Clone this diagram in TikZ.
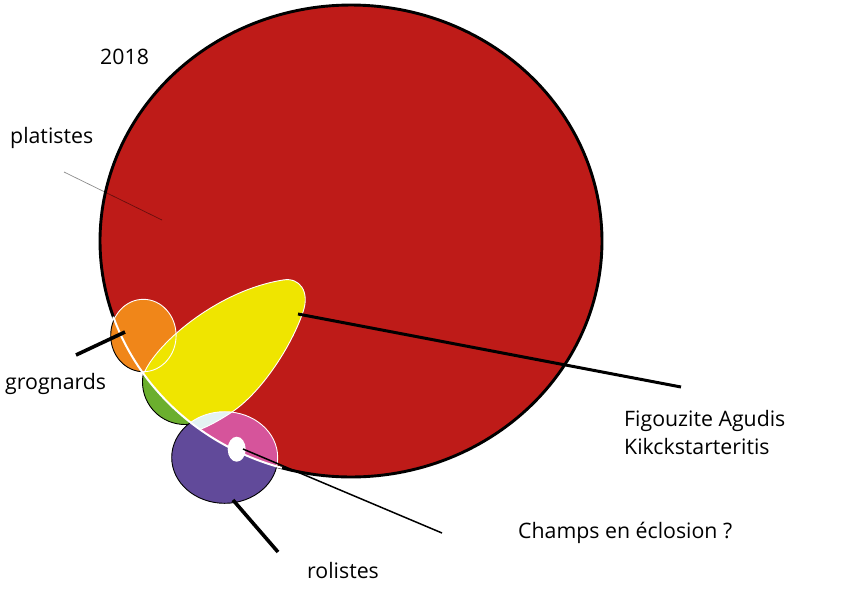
\documentclass[tikz,border=0pt]{standalone}
\usepackage{fontspec}
\setmainfont{Open Sans}
\definecolor{cred}{HTML}{BE1B18}
\definecolor{corange}{HTML}{F08619}
\definecolor{cyellow}{HTML}{EFE500}
\definecolor{cgreen}{HTML}{6BAF2E}
\definecolor{cpink}{HTML}{D6549B}
\definecolor{cpurple}{HTML}{614A9A}
\definecolor{cpale}{HTML}{E4F2F2}
\begin{document}
\begin{tikzpicture}[x=1pt,y=-1pt,
  redshape/.style={insert path={(351,241) ellipse [x radius=251, y radius=236]}},
  orangeshape/.style={insert path={(143.4,335.5) ellipse [x radius=32.7, y radius=36.2]}},
  greenshape/.style={insert path={(185,382) circle [radius=42.5]}},
  roleshape/.style={insert path={(224.7,457.5) ellipse [x radius=53, y radius=45.8]}},
  yellowshape/.style={insert path={(145,371) .. controls (160,340) and (220,290) .. (283,280)
     .. controls (300,277) and (310,292) .. (303,312)
     .. controls (292,345) and (262,392) .. (232,412)
     .. controls (220,420) and (206,428) .. (195,431) -- (138,380) -- cycle}},
  thinblack/.style={draw=black, line width=0.9pt},
  thinwhite/.style={draw=white, line width=0.9pt},
  lbl/.style={font=\fontsize{21.3}{25}\selectfont, anchor=base west, inner sep=0pt},
  leader/.style={line width=3.6pt, line cap=butt},
]
\useasboundingbox (0,0) rectangle (842,595);
\fill[white] (0,0) rectangle (842,595);

% parts lying outside the red disc (drawn first, red covers the rest)
\path[greenshape, fill=cgreen, thinblack];
\path[roleshape, fill=cpurple, thinblack];
\path[orangeshape, fill=corange, thinblack];

% red disc
\path[redshape, fill=cred];

% parts inside the red disc
\begin{scope}
  \clip[redshape];
  \path[orangeshape, fill=corange];
  \path[yellowshape, fill=cyellow];
  \path[orangeshape, thinwhite];
  \path[roleshape, fill=cpink];
  \begin{scope}
    \clip[yellowshape];
    \path[roleshape, fill=cpale];
  \end{scope}
  \path[yellowshape, thinwhite];
  \path[roleshape, thinwhite];
\end{scope}

% hole
\fill[white] (236.7,449.2) ellipse [x radius=9, y radius=12.5];

% red outline: black outside, white through the overlapping shapes
\draw[black, line width=2.9pt] plot[domain=161:467, samples=200, variable=\t]
  ({351+251*cos(\t)}, {241+236*sin(\t)});
\draw[white, line width=2pt] plot[domain=106:161.3, samples=60, variable=\t]
  ({351+251*cos(\t)}, {241+236*sin(\t)});

% labels
\node[lbl] (y2018) at (100,64) {2018};
\node[lbl] (plat) at (10,143) {platistes};
\node[lbl] (grog) at (5,389) {grognards};
\node[lbl] (fig1) at (624,426) {Figouzite Agudis};
\node[lbl] (fig2) at (624,454) {Kikckstarteritis};
\node[lbl] (champ) at (518,538) {Champs en éclosion ?};
\node[lbl] (rol) at (307,578) {rolistes};

% leader lines
\coordinate (platA) at (64,172);
\coordinate (platB) at (162,220);
\coordinate (figA) at (298,314);
\coordinate (figB) at (681,387);
\coordinate (grogA) at (76,355);
\coordinate (grogB) at (125,332);
\coordinate (rolA) at (233,500);
\coordinate (rolB) at (278,552);
\coordinate (chA) at (243,449);
\coordinate (chB) at (442,533);

\draw[black, opacity=0.45, line width=0.7pt] (platA) -- (platB);
\draw[leader, line width=3pt] (figA) -- (figB);
\draw[leader] (grogA) -- (grogB);
\draw[leader] (rolA) -- (rolB);
\draw[black, line width=1.5pt] (chA) -- (chB);
\end{tikzpicture}
\end{document}
